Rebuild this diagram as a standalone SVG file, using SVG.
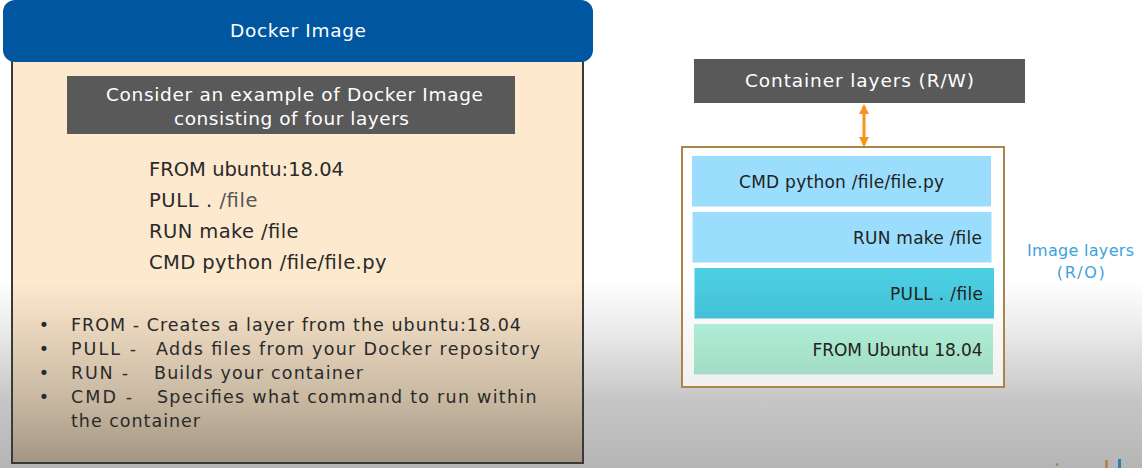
<svg xmlns="http://www.w3.org/2000/svg" width="1142" height="468" viewBox="0 0 1142 468">
<defs>
<style>
text{font-family:"DejaVu Sans","Open Sans",sans-serif;}
.hdr{fill:#ffffff;font-size:18.5px;}
.code{fill:#2a2a2a;font-size:19.5px;}
.bul{fill:#2a2a2a;font-size:17.5px;}
.lay{fill:#222222;font-size:17px;}
.note{fill:#3ba3db;font-size:16px;}
</style>
<linearGradient id="bg" gradientUnits="userSpaceOnUse" x1="0" y1="0" x2="0" y2="468">
<stop offset="0" stop-color="#ffffff"/>
<stop offset="0.6" stop-color="#ffffff"/>
<stop offset="0.7" stop-color="#ececec"/>
<stop offset="0.855" stop-color="#c6c6c6"/>
<stop offset="1" stop-color="#b5b5b5"/>
</linearGradient>
<linearGradient id="panel" gradientUnits="userSpaceOnUse" x1="0" y1="50" x2="0" y2="463">
<stop offset="0" stop-color="#fde9ce"/>
<stop offset="0.56" stop-color="#fde9ce"/>
<stop offset="0.605" stop-color="#f5e1c7"/>
<stop offset="0.847" stop-color="#c8b8a2"/>
<stop offset="1" stop-color="#a49684"/>
</linearGradient>
<linearGradient id="gPull" x1="0" y1="0" x2="0" y2="1">
<stop offset="0" stop-color="#4dd0e2"/>
<stop offset="1" stop-color="#44c1d8"/>
</linearGradient>
<linearGradient id="gFrom" x1="0" y1="0" x2="0" y2="1">
<stop offset="0" stop-color="#b0ecd6"/>
<stop offset="1" stop-color="#a2dcc4"/>
</linearGradient>
<linearGradient id="gBox" x1="0" y1="0" x2="0" y2="1">
<stop offset="0" stop-color="#ffffff"/>
<stop offset="0.55" stop-color="#ffffff"/>
<stop offset="1" stop-color="#f0f0f0"/>
</linearGradient>
<marker id="ah" viewBox="0 0 10 10" refX="8" refY="5" markerWidth="3.4" markerHeight="3.4" orient="auto-start-reverse">
<path d="M0,0 L10,5 L0,10 z" fill="#f7941d"/>
</marker>
</defs>
<rect x="0" y="0" width="1142" height="468" fill="url(#bg)"/>

<g id="image-panel">
<rect x="12" y="50" width="571" height="413" fill="url(#panel)" stroke="#3a3a3a" stroke-width="2"/>
</g>
<g id="header">
<rect x="3" y="0" width="590" height="62" rx="12" fill="#00569f"/>
<text class="hdr" x="298" y="37" text-anchor="middle" textLength="136">Docker Image</text>
</g>
<g id="intro">
<rect x="67" y="76" width="448" height="58" fill="#595959"/>
<text class="hdr" x="106" y="101" textLength="377">Consider an example of Docker Image</text>
<text class="hdr" x="174" y="125" textLength="235">consisting of four layers</text>
</g>
<g id="code">
<text class="code" x="149" y="176" textLength="195">FROM ubuntu:18.04</text>
<text class="code" x="149" y="207" textLength="108.5">PULL . <tspan fill="#555555">/file</tspan></text>
<text class="code" x="149" y="238" textLength="149.5">RUN make /file</text>
<text class="code" x="149" y="269" textLength="237.5">CMD python /file/file.py</text>
</g>
<g id="bullets">
<text class="bul" x="44" y="331" text-anchor="middle">•</text>
<text class="bul" x="44" y="355" text-anchor="middle">•</text>
<text class="bul" x="44" y="379" text-anchor="middle">•</text>
<text class="bul" x="44" y="403" text-anchor="middle">•</text>
<text class="bul" x="71" y="331" textLength="450">FROM - Creates a layer from the ubuntu:18.04</text>
<text class="bul" x="71" y="355" textLength="65">PULL -</text>
<text class="bul" x="156" y="355" textLength="384">Adds files from your Docker repository</text>
<text class="bul" x="71" y="379" textLength="57">RUN -</text>
<text class="bul" x="154" y="379" textLength="209">Builds your container</text>
<text class="bul" x="71" y="403" textLength="61">CMD -</text>
<text class="bul" x="157" y="403" textLength="379.5">Specifies what command to run within</text>
<text class="bul" x="71" y="427" textLength="129">the container</text>
</g>

<g id="container-layers">
<rect x="694" y="59" width="331" height="44" fill="#595959"/>
<text class="hdr" x="745" y="87" textLength="229">Container layers (R/W)</text>
</g>
<g id="connectors">
<line x1="864" y1="106" x2="864" y2="145" stroke="#f7941d" stroke-width="3" marker-start="url(#ah)" marker-end="url(#ah)"/>
</g>
<g id="image-layers">
<rect x="682" y="147" width="322" height="240" fill="url(#gBox)" stroke="#a98548" stroke-width="2"/>
</g>
<g id="layer-cmd">
<rect x="692" y="156" width="299" height="50.5" fill="#9addfc"/>
<text class="lay" x="739" y="188" textLength="205">CMD python /file/file.py</text>
</g>
<g id="layer-run">
<rect x="692.5" y="212" width="299" height="50.5" fill="#9addfc"/>
<text class="lay" x="853" y="243.5" textLength="129">RUN make /file</text>
</g>
<g id="layer-pull">
<rect x="694.5" y="268" width="299.5" height="50.5" fill="url(#gPull)"/>
<text class="lay" x="890" y="300" textLength="93">PULL . /file</text>
</g>
<g id="layer-from">
<rect x="694" y="324" width="299" height="50.5" fill="url(#gFrom)"/>
<text class="lay" x="812.5" y="355.5" textLength="170">FROM Ubuntu 18.04</text>
</g>
<g id="image-layers-label">
<text class="note" x="1080.5" y="256" text-anchor="middle" textLength="107">Image layers</text>
<text class="note" x="1080.8" y="277.5" text-anchor="middle" textLength="48">(R/O)</text>
</g>

<g id="logo-fragment">
<circle cx="1057" cy="464.5" r="1.3" fill="#b07a3a"/>
<rect x="1105" y="460" width="3" height="8" fill="#b8864a"/>
<rect x="1118" y="459" width="3" height="9" fill="#2a7fb8"/>
</g>
</svg>
